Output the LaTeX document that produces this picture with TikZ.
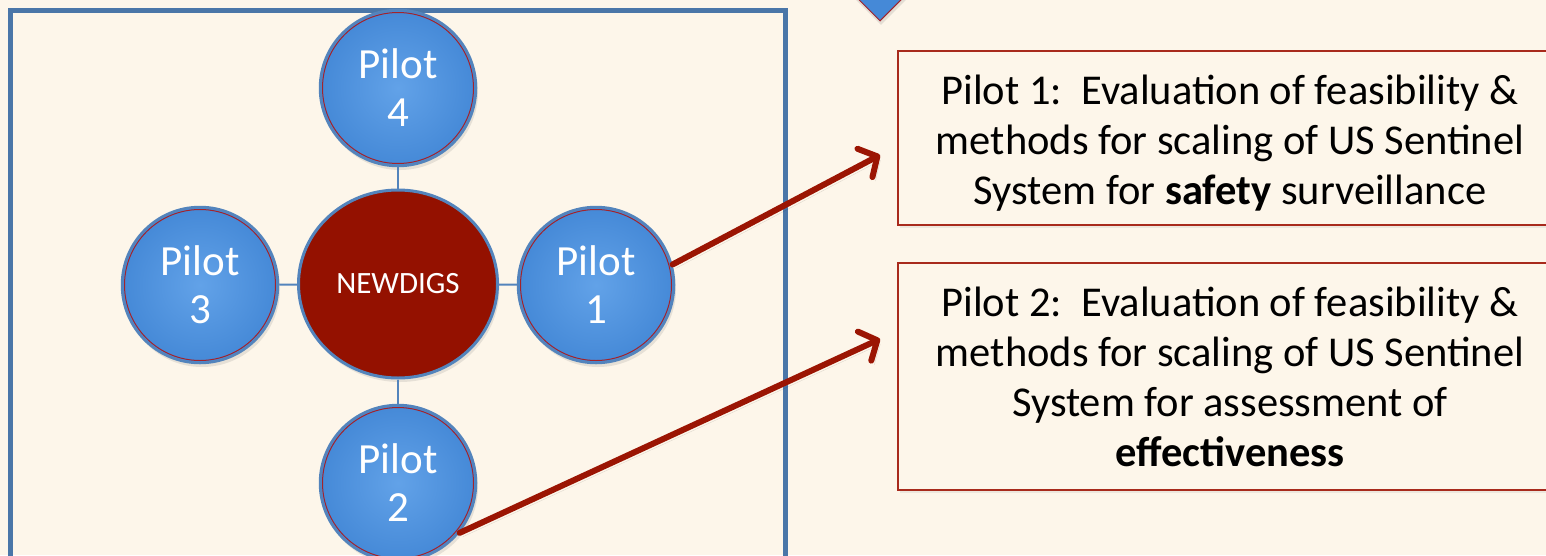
\documentclass[tikz,border=0pt]{standalone}
\usepackage{fontspec}
\setmainfont{Carlito}
\usepackage{tikz}
\usetikzlibrary{shapes.geometric, arrows.meta, shadows}
\definecolor{paper}{HTML}{FDF6EA}
\definecolor{frameblue}{HTML}{4A76A8}
\definecolor{ringblue}{HTML}{5384BC}
\definecolor{ringred}{HTML}{A3232A}
\definecolor{ballin}{HTML}{62A2E8}
\definecolor{ballout}{HTML}{4589D7}
\definecolor{hubred}{HTML}{941100}
\definecolor{arrred}{HTML}{9B1503}
\definecolor{boxred}{HTML}{A82A1C}
\tikzstyle{pilot}=[shape=circle, minimum size=156pt, inner sep=0pt, align=center,
  shading=radial, inner color=ballin, outer color=ballout,
  draw=ringblue, line width=2.5pt, text=white,
  font=\fontsize{43}{48}\selectfont,
  drop shadow={opacity=0.18, shadow xshift=2pt, shadow yshift=-4pt},
  path picture={\draw[ringred, line width=1pt] (path picture bounding box.center) circle[radius=75.5pt];}]
\tikzstyle{hub}=[shape=ellipse, minimum width=199pt, minimum height=188pt, inner sep=0pt,
  fill=hubred, draw=ringblue, line width=3pt, text=white,
  font=\fontsize{31}{36}\selectfont,
  drop shadow={opacity=0.18, shadow xshift=2pt, shadow yshift=-4pt}]
\tikzstyle{descr}=[shape=rectangle, minimum width=664pt, inner sep=0pt, align=center,
  fill=paper, draw=boxred, line width=2pt,
  font=\fontsize{42.5}{50}\selectfont,
  drop shadow={opacity=0.12, shadow xshift=2pt, shadow yshift=-3pt}]
\tikzstyle{link}=[draw=ringblue, line width=2pt]
\tikzstyle{l}=[draw=arrred, line width=6pt, line cap=round,
  -{Straight Barb[length=14pt, width=32pt, round]},
  preaction={draw=black, draw opacity=0.12, transform canvas={xshift=3pt, yshift=-4pt}}]

\begin{document}
\begin{tikzpicture}[x=1pt, y=-1pt]
\useasboundingbox (0,0) rectangle (1546,555);
\fill[paper] (0,0) rectangle (1546,555);

% frame
\draw[frameblue, line width=5pt] (10,10) rectangle (785,600);

% top marker
\node[draw=ringred, line width=1pt, fill=ballout, diamond, minimum width=92pt,
  minimum height=92pt, inner sep=0pt,
  drop shadow={opacity=0.2, shadow xshift=1pt, shadow yshift=-4pt}] (merge) at (880,-25) {};

% hub
\node[hub] (hub) at (398,284) {NEWDIGS};

% pilots
\node[pilot] (p4) at (398,88) {Pilot\\4};
\node[pilot] (p3) at (200,285) {Pilot\\3};
\node[pilot] (p1) at (596,285) {Pilot\\1};
\node[pilot] (p2) at (398,483) {Pilot\\2};

% links
\path [link] (hub) -- (p4);
\path [link] (hub) -- (p3);
\path [link] (hub) -- (p1);
\path [link] (hub) -- (p2);

% descriptions
\node[descr, minimum height=174pt] (d1) at (1230,138)
  {\rule{0pt}{40pt}Pilot 1:\ \ Evaluation of feasibility \&\\methods for scaling of US Sentinel\\System for \textbf{safety} surveillance};
\node[descr, minimum height=227pt] (d2) at (1230,376.5)
  {Pilot 2:\ \ Evaluation of feasibility \&\\methods for scaling of US Sentinel\\System for assessment of\\\textbf{effectiveness}};

\coordinate (t1) at (880,155);
\coordinate (t2) at (880,339);

%paths
\path [l] (p1.15) -- (t1);
\path [l] (p2.-39) -- (t2);

\end{tikzpicture}
\end{document}
